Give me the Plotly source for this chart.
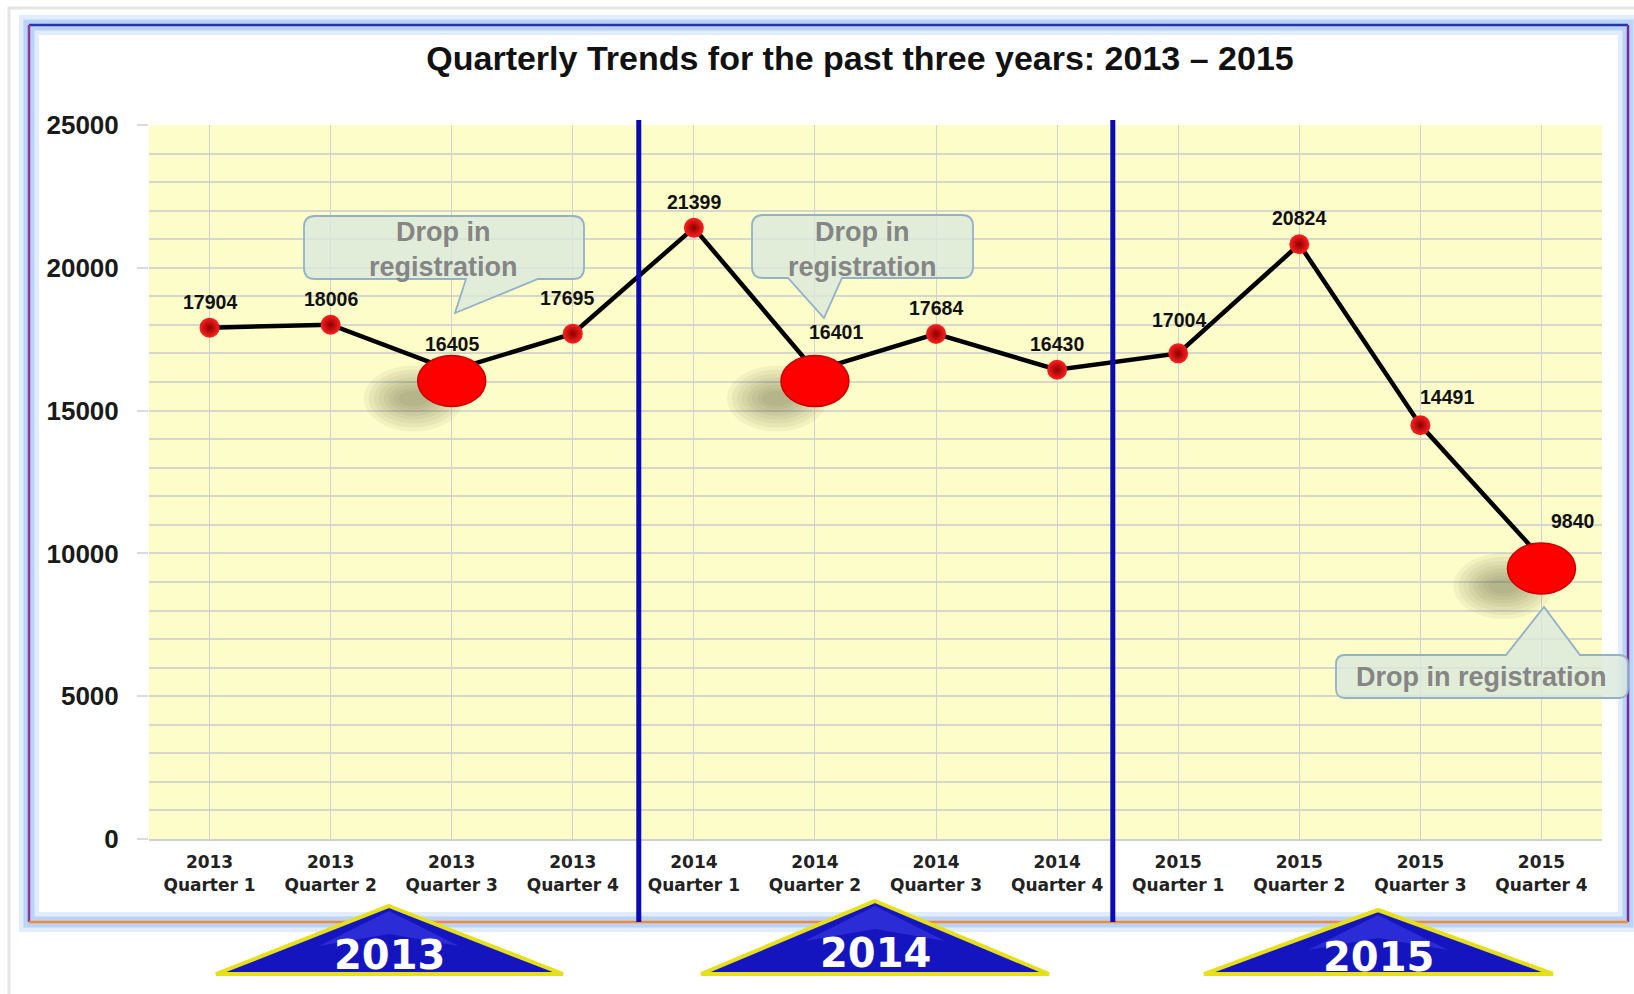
import plotly.graph_objects as go

# ---------------- data ----------------
tick_labels = ["2013<br>Quarter 1", "2013<br>Quarter 2", "2013<br>Quarter 3", "2013<br>Quarter 4",
               "2014<br>Quarter 1", "2014<br>Quarter 2", "2014<br>Quarter 3", "2014<br>Quarter 4",
               "2015<br>Quarter 1", "2015<br>Quarter 2", "2015<br>Quarter 3", "2015<br>Quarter 4"]
values = [17904, 18006, 16405, 17695, 21399, 16401, 17684, 16430, 17004, 20824, 14491, 9840]
drop_idx = [2, 5, 11]
year_banners = ["2013", "2014", "2015"]
callout_texts = ["Drop in<br>registration", "Drop in<br>registration", "Drop in registration"]
title_text = "Quarterly Trends for the past three years: 2013 \u2013 2015"

# ---------------- layout helpers (pixel geometry) ----------------
FW, FH = 1634, 994
L, R, T, B = 149, 1602, 125, 839
FONT = "Liberation Sans"


def px(x):
    return (x - L) / (R - L)


def py(y):
    return (B - y) / (B - T)


def P(x, y):
    return f"{px(x):.5f},{py(y):.5f}"


def callout_path(x0, y0, x1, y1, r, side, b0, b1, tx, ty):
    s = f"M {P(x0 + r, y0)} "
    if side == "top":
        s += f"L {P(b0, y0)} L {P(tx, ty)} L {P(b1, y0)} "
    s += f"L {P(x1 - r, y0)} Q {P(x1, y0)} {P(x1, y0 + r)} "
    s += f"L {P(x1, y1 - r)} Q {P(x1, y1)} {P(x1 - r, y1)} "
    if side == "bottom":
        s += f"L {P(b1, y1)} L {P(tx, ty)} L {P(b0, y1)} "
    s += f"L {P(x0 + r, y1)} Q {P(x0, y1)} {P(x0, y1 - r)} "
    s += f"L {P(x0, y0 + r)} Q {P(x0, y0)} {P(x0 + r, y0)} Z"
    return s


x = list(range(len(values)))

fig = go.Figure()
fig.add_trace(go.Scatter(
    x=x, y=values, mode="lines+markers",
    line=dict(color="#000000", width=4.5),
    marker=dict(size=20, color="#ff2020",
                gradient=dict(type="radial", color="#8a0000"),
                line=dict(width=0)),
    hoverinfo="x+y", showlegend=False,
))

shapes = []
# frame: outer faint border
shapes.append(dict(type="rect", xref="paper", yref="paper",
                   x0=px(9), x1=px(1660), y0=py(8), y1=py(1020),
                   line=dict(color="#e6e6e6", width=3), layer="below"))
# glow
for w, c in [(20, "rgba(170,200,245,0.35)"), (11, "rgba(160,195,245,0.6)")]:
    shapes.append(dict(type="rect", xref="paper", yref="paper",
                       x0=px(29), x1=px(1628), y0=py(922), y1=py(25),
                       line=dict(color=c, width=w), layer="below"))
# coloured frame edges
edge_lines = [((29, 25), (1628, 25), "#2b35a8"),
              ((1628, 25), (1628, 922), "#7a2a9a"),
              ((29, 25), (29, 922), "#8a3a9a"),
              ((29, 922), (1628, 922), "#f08a3a")]
for (a, b, c) in edge_lines:
    shapes.append(dict(type="line", xref="paper", yref="paper",
                       x0=px(a[0]), y0=py(a[1]), x1=px(b[0]), y1=py(b[1]),
                       line=dict(color=c, width=2.5), layer="below"))

# soft shadows under highlighted points
for i in drop_idx:
    for (w, h) in [(100, 66), (90, 58), (80, 50), (70, 42), (60, 35), (50, 28), (40, 21), (30, 15)]:
        shapes.append(dict(type="circle", xref="x", yref="y",
                           xsizemode="pixel", ysizemode="pixel",
                           xanchor=i, yanchor=values[i],
                           x0=-38 - w / 2, x1=-38 + w / 2,
                           y0=-28 - h / 2, y1=-28 + h / 2,
                           fillcolor="rgba(95,95,55,0.065)",
                           line=dict(width=0), layer="between"))

# big highlighted markers
for i in drop_idx:
    shapes.append(dict(type="circle", xref="x", yref="y",
                       xsizemode="pixel", ysizemode="pixel",
                       xanchor=i, yanchor=values[i],
                       x0=-34, x1=34, y0=-36, y1=15,
                       fillcolor="#ff0000", line=dict(color="#c80000", width=1.5),
                       layer="above"))

# year separators
for xs in [3.545, 7.46]:
    shapes.append(dict(type="line", xref="x", yref="paper",
                       x0=xs, x1=xs, y0=py(922), y1=py(120),
                       line=dict(color="#0a0ab0", width=5), layer="above"))

# callouts
callouts = [
    (304, 216, 584, 279, 11, "bottom", 466, 538, 455, 313),
    (752, 215, 973, 278, 11, "bottom", 788, 842, 824, 318),
    (1336, 655, 1628, 698, 9, "top", 1506, 1580, 1544, 607),
]
for c in callouts:
    shapes.append(dict(type="path", xref="paper", yref="paper",
                       path=callout_path(*c),
                       fillcolor="rgba(218,232,220,0.8)",
                       line=dict(color="#93b2c8", width=1.8), layer="above"))

# year banner triangles
banners = [((389, 906), (216, 974), (563, 974)),
           ((875, 901), (701, 974), (1049, 974)),
           ((1378, 910), (1204, 974), (1553, 974))]
for (ap, bl, br) in banners:
    shapes.append(dict(type="path", xref="paper", yref="paper",
                       path=f"M {P(*ap)} L {P(*br)} L {P(*bl)} Z",
                       fillcolor="#1515c0", line=dict(color="#e6e01a", width=4),
                       layer="above"))
    hx = ap[0]
    shapes.append(dict(type="path", xref="paper", yref="paper",
                       path=f"M {P(hx, ap[1] + 5)} L {P(hx + 70, ap[1] + 40)} L {P(hx, ap[1] + 28)} L {P(hx - 70, ap[1] + 40)} Z",
                       fillcolor="rgba(90,90,255,0.35)", line=dict(width=0),
                       layer="above"))

annotations = []
# data labels
label_dx = [0, 0, 0, -6, 0, 21, 0, 0, 1, 0, 27, 32]
label_dy = [26, 26, 26, 36, 26, 39, 26, 26, 33, 26, 28, 37]
for i, v in enumerate(values):
    annotations.append(dict(x=i, y=v, xref="x", yref="y", text=str(v),
                            showarrow=False, xshift=label_dx[i], yshift=label_dy[i],
                            font=dict(family=FONT, size=19.5, color="#111111", weight="bold")))

# callout texts
callout_text_pos = [(443, 249), (862, 249), (1481, 677)]
for t, (cx, cy) in zip(callout_texts, callout_text_pos):
    annotations.append(dict(x=px(cx), y=py(cy), xref="paper", yref="paper", text=t,
                            showarrow=False, xanchor="center", yanchor="middle",
                            font=dict(family=FONT, size=27, color="#858585", weight="bold")))

# banner texts
banner_text_pos = [(389, 955), (875, 953), (1378, 957)]
for t, (cx, cy) in zip(year_banners, banner_text_pos):
    annotations.append(dict(x=px(cx), y=py(cy), xref="paper", yref="paper", text=t,
                            showarrow=False, xanchor="center", yanchor="middle",
                            font=dict(family="DejaVu Sans", size=40, color="#ffffff", weight="bold")))

fig.update_layout(
    width=FW, height=FH,
    margin=dict(l=L, r=FW - R, t=T, b=FH - B, autoexpand=False),
    paper_bgcolor="#ffffff",
    plot_bgcolor="#fdfdc9",
    title=dict(text=title_text, x=px(860), xref="paper", xanchor="center",
               y=1 - 58 / FH, yref="container", yanchor="middle",
               font=dict(family=FONT, size=34, color="#111111", weight="bold")),
    xaxis=dict(range=[-0.5, 11.5], tickmode="array", tickvals=x, ticktext=tick_labels,
               showgrid=True, gridcolor="#d2d2d2", gridwidth=1.3,
               showline=True, linecolor="#d0d0d0", linewidth=2,
               zeroline=False, ticks="", ticklabelstandoff=7,
               tickfont=dict(family="DejaVu Sans", size=17, color="#222222", weight="bold")),
    yaxis=dict(range=[0, 25000], tick0=0, dtick=5000, tickformat="d",
               showgrid=True, gridcolor="#d6d6cc", gridwidth=1.5,
               minor=dict(dtick=1000, showgrid=True, gridcolor="#d6d6cc", gridwidth=1.5, ticks=""),
               ticks="outside", ticklen=11, tickcolor="#dcdcdc", tickwidth=1.5,
               ticklabelstandoff=13, zeroline=False, showline=False,
               tickfont=dict(family=FONT, size=26, color="#1a1a1a", weight="bold")),
    shapes=shapes,
    annotations=annotations,
    showlegend=False,
)

fig.write_html("out.html", config={"displayModeBar": False},
               post_script="document.body.style.margin='0px';document.body.style.overflow='hidden';")
